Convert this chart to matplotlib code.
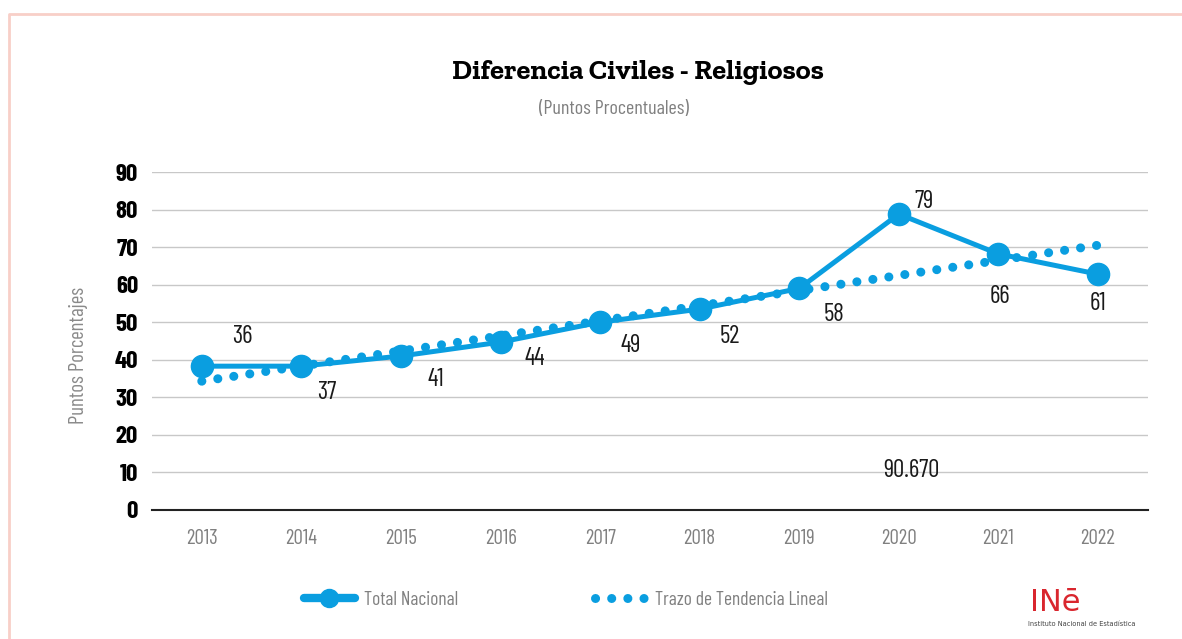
import matplotlib
matplotlib.use("Agg")
from matplotlib import pyplot as plt
from matplotlib.lines import Line2D
from matplotlib import font_manager

years = ["2013", "2014", "2015", "2016", "2017", "2018", "2019", "2020", "2021", "2022"]
total_nacional = [38.3, 38.3, 41.0, 44.7, 50.0, 53.5, 59.0, 78.8, 68.2, 62.8]
value_labels = ["36", "37", "41", "44", "49", "52", "58", "79", "66", "61"]
trend_ends = [34.3, 70.5]
yticks = [0, 10, 20, 30, 40, 50, 60, 70, 80, 90]
stray_label = "90.670"

# label offsets in points (dx, dy) relative to each marker
label_offsets = [(29, 21), (18, -19), (25, -17), (25, -12), (22, -17),
                 (22, -20), (25, -19), (18, 9), (1, -31), (0, -21)]

names = {f.name for f in font_manager.fontManager.ttflist}


def pick(*cands):
    for c in cands:
        if c in names:
            return c
    return "DejaVu Sans"


cond = pick("Barlow Condensed", "Roboto Condensed", "Archivo Narrow", "Asap Condensed")
slab = pick("Roboto Slab", "Zilla Slab", "Bitter", "Arvo", "DejaVu Serif")
plt.rcParams["font.family"] = [cond, "DejaVu Sans"]

blue = "#0a9ee0"
gray = "#808080"

fig = plt.figure(figsize=(11.82, 6.39), dpi=100)
ax = fig.add_axes([0.1286, 0.2019, 0.8424, 0.5289])

x = list(range(len(years)))
ax.plot(x, total_nacional, color=blue, lw=3.6, marker="o", ms=16, zorder=4)
ax.plot([x[0], x[-1]], trend_ends, color=blue, lw=6.5, linestyle=(0, (0.01, 1.78)),
        dash_capstyle="round", zorder=3)

for xi, yi, lab, off in zip(x, total_nacional, value_labels, label_offsets):
    ax.annotate(lab, (xi, yi), xytext=off, textcoords="offset points",
                ha="center", va="center", fontsize=18, color="#1a1a1a", zorder=5)

ax.text(7.13, 10.5, stray_label, ha="center", va="center", fontsize=18, color="#1a1a1a")

ax.set_xlim(-0.5, len(years) - 0.5)
ax.set_ylim(0, 90)
ax.set_xticks(x)
ax.set_xticklabels(years, color=gray, fontsize=15)
ax.set_yticks(yticks)
ax.set_yticklabels([str(v) for v in yticks], fontsize=18, fontweight="bold", color="black")
ax.tick_params(axis="both", length=0)
ax.tick_params(axis="x", pad=14)
ax.tick_params(axis="y", pad=10)
ax.grid(axis="y", color="#c8c8c8", lw=1)
ax.set_axisbelow(True)
for side in ["top", "right", "left"]:
    ax.spines[side].set_visible(False)
ax.spines["bottom"].set_color("#222222")
ax.spines["bottom"].set_linewidth(1.5)

fig.text(0.54, 0.887, "Diferencia Civiles - Religiosos", ha="center", va="center",
         fontsize=20.5, fontweight="bold", family=[slab, "DejaVu Serif"])
fig.text(0.519, 0.829, "(Puntos Procentuales)", ha="center", va="center",
         fontsize=14.5, color=gray)
fig.text(0.066, 0.444, "Puntos Porcentajes", rotation=90, ha="center", va="center",
         fontsize=15, color="#8a8a8a")

handles = [
    Line2D([], [], color=blue, lw=6, marker="o", ms=13, solid_capstyle="round"),
    Line2D([], [], color=blue, lw=6.5, linestyle=(0, (0.01, 1.78)), dash_capstyle="round"),
]
fig.legend(handles, ["Total Nacional", "Trazo de Tendencia Lineal"], loc="center",
           bbox_to_anchor=(0.479, 0.061), ncol=2, frameon=False, fontsize=14,
           labelcolor=gray, handlelength=2.6, handletextpad=0.5, columnspacing=7.0)

# INE logo
fig.text(0.893, 0.034, "INē", fontsize=22, color="#d9262e", ha="center", va="bottom",
         family="DejaVu Sans")
fig.text(0.915, 0.024, "Instituto Nacional de Estadística", fontsize=4.8, color="#444444",
         ha="center", va="center", family="DejaVu Sans")

# pink frame
fig.add_artist(Line2D([0.0076, 0.0076, 1.0], [0.0, 0.978, 0.978], color="#f8cfc8", lw=2,
                      transform=fig.transFigure))

fig.savefig("out.png", dpi=100, facecolor="white")
